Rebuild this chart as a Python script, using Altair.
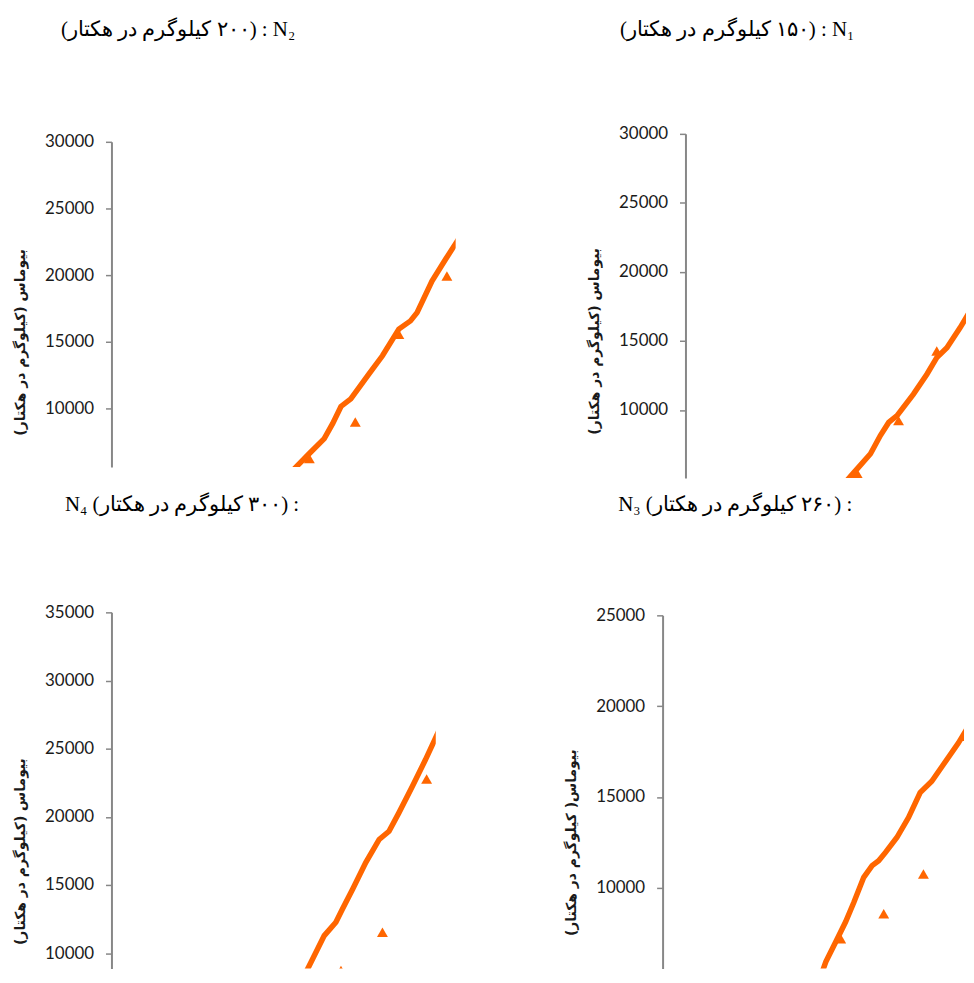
import altair as alt
import pandas as pd

ORANGE = "#FF6600"
AXIS_GRAY = "#878787"

# ---- data (day after sowing, biomass kg/ha) ----
tl_line_day = [55, 61.9, 66.3, 71.3, 74.1, 76.9, 80.2, 86.3, 90.8, 96.3, 100.2, 102.4, 107.4, 111.9, 115.1, 120]
tl_line_val = [4000, 5620, 6620, 7740, 8860, 10150, 10720, 12590, 13950, 15950, 16570, 17190, 19550, 21170, 22290, 24000]
tl_obs_day = [66.3, 81.7, 96.3, 112.4]
tl_obs_val = [6250, 8980, 15570, 19930]

tr_line_day = [50, 55.3, 57.6, 62, 65.3, 68.1, 70.9, 76.4, 80.9, 84.2, 87.6, 92, 96.7]
tr_line_val = [3900, 5190, 5750, 6830, 8150, 9100, 9590, 11150, 12590, 13790, 14510, 15950, 17640]
tr_obs_day = [57.6, 71.4, 84.2, 97.3]
tr_obs_val = [5390, 9230, 14270, 23280]

bl_line_day = [59, 63.6, 66.9, 71.3, 75.2, 77.4, 80.8, 85.2, 89.7, 93, 96.3, 100.8, 105.2, 108.8, 113]
bl_line_val = [5900, 7920, 9340, 11280, 12260, 13230, 14690, 16640, 18340, 18940, 20290, 22230, 24180, 25880, 27850]
bl_obs_day = [76.9, 90.8, 105.6]
bl_obs_val = [8720, 11530, 22770]

br_line_day = [48, 52.4, 54.7, 58, 61.3, 64.1, 67.4, 70.2, 72.4, 74.7, 78.5, 82.4, 86.3, 90.2, 94.1, 99.1, 103.5]
br_line_val = [2800, 4860, 5930, 7020, 8120, 9210, 10580, 11220, 11490, 11950, 12770, 13870, 15240, 15870, 16790, 17970, 19160]
br_obs_day = [59.7, 74.1, 87.4, 100.8]
br_obs_val = [7200, 8570, 10760, 18340]

RLM = "\u200f"
titles = [
    RLM + "(۲۰۰ کیلوگرم در هکتار)" + RLM + " : N₂",
    RLM + "(۱۵۰ کیلوگرم در هکتار)" + RLM + " : N₁",
    "N₄ " + RLM + "(۳۰۰ کیلوگرم در هکتار)" + RLM + " :",
    "N₃ " + RLM + "(۲۶۰ کیلوگرم در هکتار)" + RLM + " :",
]
y_title_a = "بیوماس (کیلوگرم در هکتار)" + RLM
y_title_b = "بیوماس( کیلوگرم در هکتار)" + RLM


def title_chart(text, cx, w):
    df = pd.DataFrame({"label": [text]})
    return (
        alt.Chart(df)
        .mark_text(font="Liberation Serif", fontSize=21, color="black",
                   align="center", baseline="alphabetic")
        .encode(text="label:N", x=alt.value(cx), y=alt.value(21))
        .properties(width=w, height=28)
    )


def panel(line_day, line_val, obs_day, obs_val, xmax, ydom, ticks, ytitle, ty, w, h):
    ldf = pd.DataFrame({"day": line_day, "biomass": line_val})
    odf = pd.DataFrame({"day": obs_day, "biomass": obs_val})
    x = alt.X("day:Q", scale=alt.Scale(domain=[0, xmax], nice=False, zero=False), axis=None)
    y = alt.Y(
        "biomass:Q",
        scale=alt.Scale(domain=ydom, nice=False, zero=False),
        axis=alt.Axis(values=ticks, title=ytitle, format="d", titleY=ty),
    )
    line = alt.Chart(ldf).mark_line(color=ORANGE, strokeWidth=5.5, clip=True).encode(x=x, y=y)
    pts = alt.Chart(odf).mark_point(shape="triangle-up", filled=True, size=120,
                                    color=ORANGE, opacity=1, clip=True).encode(x=x, y=y)
    return alt.layer(line, pts).properties(width=w, height=h)


tl = panel(tl_line_day, tl_line_val, tl_obs_day, tl_obs_val, 346 / 3, [5600, 30000],
           [10000, 15000, 20000, 25000, 30000], y_title_a, 201, 346, 327)
tr = panel(tr_line_day, tr_line_val, tr_obs_day, tr_obs_val, 282 / 3, [5070, 30000],
           [10000, 15000, 20000, 25000, 30000], y_title_a, 208, 282, 346)
bl = panel(bl_line_day, bl_line_val, bl_obs_day, bl_obs_val, 326 / 3, [8870, 35000],
           [10000, 15000, 20000, 25000, 30000, 35000], y_title_a, 240, 326, 358)
br = panel(br_line_day, br_line_val, br_obs_day, br_obs_val, 303 / 3, [5560, 25000],
           [10000, 15000, 20000, 25000], y_title_b, 228, 303, 355)

row1 = alt.hconcat(
    alt.vconcat(title_chart(titles[0], 67, 346), tl, spacing=90),
    alt.vconcat(title_chart(titles[1], 52, 282), tr, spacing=82),
    spacing=132,
)
row2 = alt.hconcat(
    alt.vconcat(title_chart(titles[2], 71, 326), bl, spacing=86),
    alt.vconcat(title_chart(titles[3], 73, 303), br, spacing=89),
    spacing=129,
)

chart = (
    alt.vconcat(row1, row2, spacing=12)
    .properties(padding={"left": 5, "top": 5, "right": 0, "bottom": 0})
    .configure_view(strokeWidth=0)
    .configure_axis(
        grid=False,
        labelFont="Lato",
        labelFontSize=17,
        labelColor="#1a1a1a",
        labelPadding=12,
        tickSize=6,
        tickColor=AXIS_GRAY,
        tickWidth=1.5,
        domainColor=AXIS_GRAY,
        domainWidth=2,
        titleFont="DejaVu Sans",
        titleFontWeight="bold",
        titleFontSize=14,
        titleColor="#1a1a1a",
        titlePadding=17,
    )
)

chart.save("out.html", embed_options={"renderer": "svg", "actions": False})
